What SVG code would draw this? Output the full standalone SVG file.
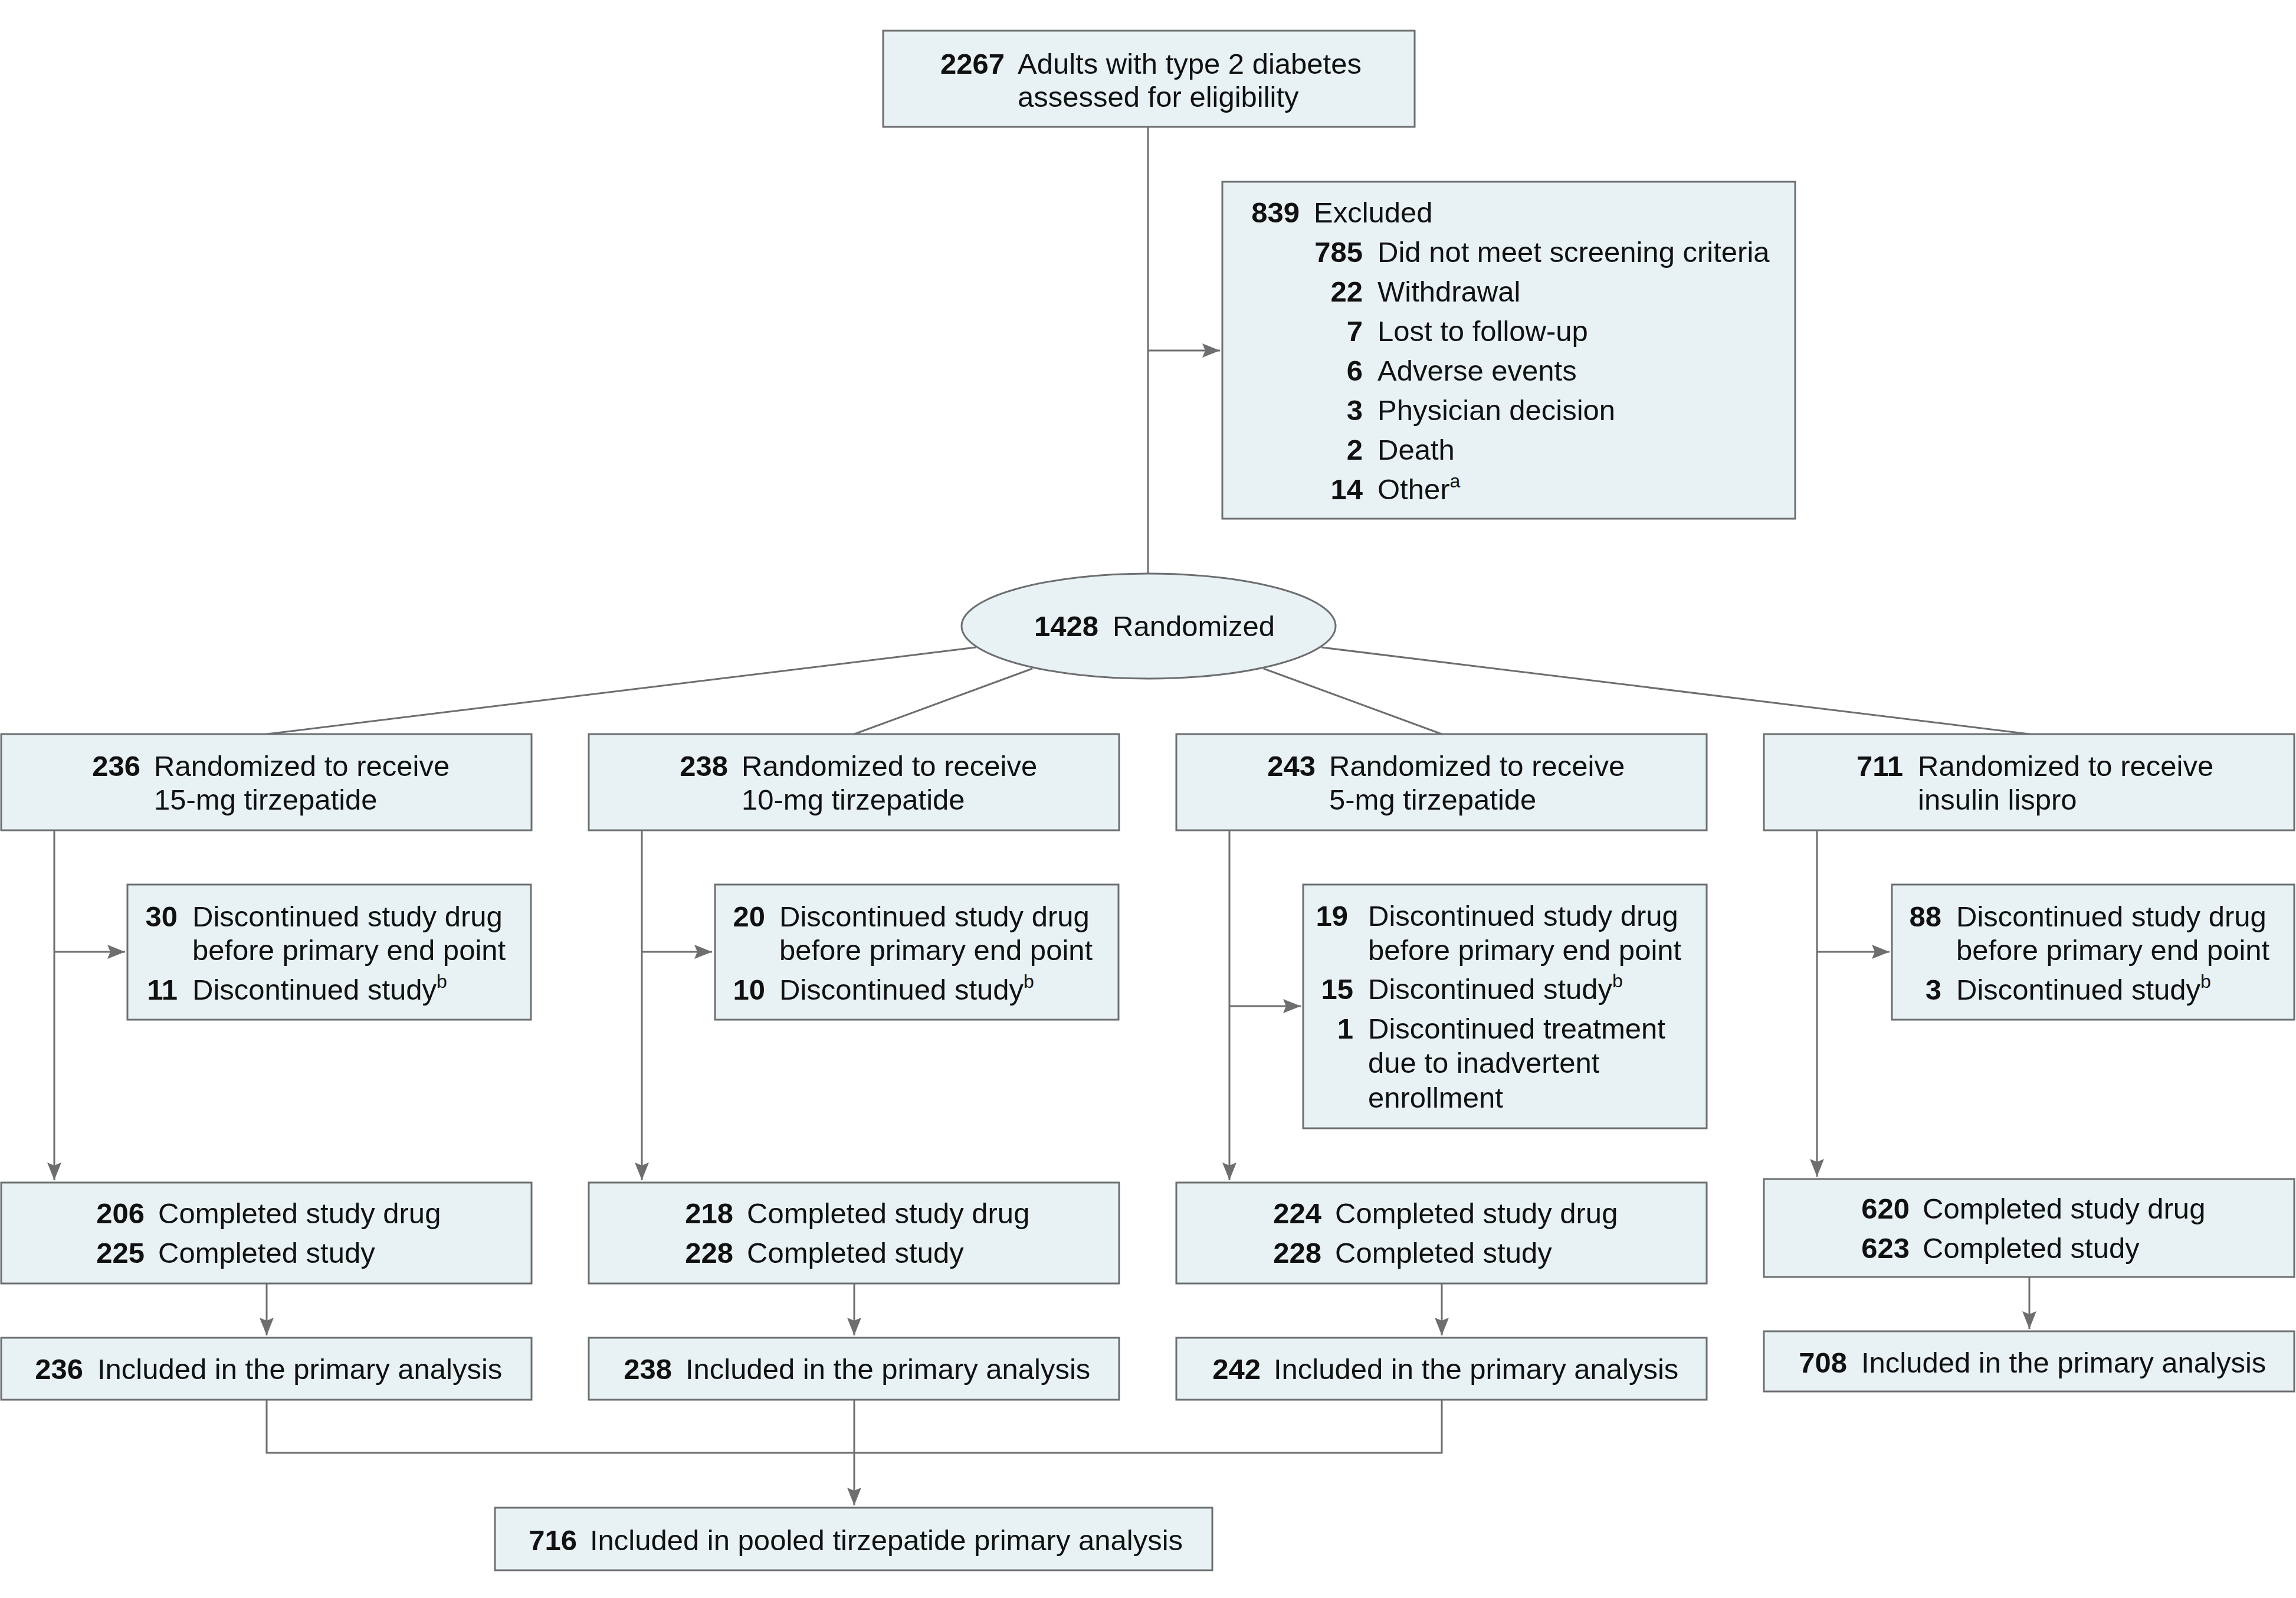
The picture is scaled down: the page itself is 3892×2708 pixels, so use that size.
<svg xmlns="http://www.w3.org/2000/svg" width="3892" height="2708" viewBox="0 0 3892 2708">
<style>
.box{fill:#e8f2f4;stroke:#6d6e70;stroke-width:3}
.ln{stroke:#6d6e70;stroke-width:3;fill:none}
text{font-family:"Liberation Sans",Arial,sans-serif;font-size:49px;fill:#111}
.n{font-weight:bold;text-anchor:end}
.sup{font-size:32px}
</style>
<defs>
<marker id="ah" markerUnits="userSpaceOnUse" markerWidth="32" markerHeight="26" refX="30" refY="12" orient="auto">
<path d="M0,0 L30,12 L0,24 L5,12 z" fill="#6d6e70"/>
</marker>
</defs>
<rect width="3892" height="2708" fill="#ffffff"/>
<g id="connectors">
<line class="ln" x1="1946" y1="215" x2="1946" y2="971"/>
<line class="ln" x1="1946" y1="594" x2="2068" y2="594" marker-end="url(#ah)"/>
<line class="ln" x1="1654" y1="1097" x2="452" y2="1244"/>
<line class="ln" x1="1750" y1="1133" x2="1448" y2="1244"/>
<line class="ln" x1="2142" y1="1133" x2="2444" y2="1244"/>
<line class="ln" x1="2240" y1="1097" x2="3440" y2="1244"/>
<line class="ln" x1="92" y1="1407" x2="92" y2="2000" marker-end="url(#ah)"/>
<line class="ln" x1="92" y1="1613" x2="212" y2="1613" marker-end="url(#ah)"/>
<line class="ln" x1="1088" y1="1407" x2="1088" y2="2000" marker-end="url(#ah)"/>
<line class="ln" x1="1088" y1="1613" x2="1207" y2="1613" marker-end="url(#ah)"/>
<line class="ln" x1="2084" y1="1407" x2="2084" y2="2000" marker-end="url(#ah)"/>
<line class="ln" x1="2084" y1="1705" x2="2205" y2="1705" marker-end="url(#ah)"/>
<line class="ln" x1="3080" y1="1407" x2="3080" y2="1994" marker-end="url(#ah)"/>
<line class="ln" x1="3080" y1="1613" x2="3203" y2="1613" marker-end="url(#ah)"/>
<line class="ln" x1="452" y1="2175" x2="452" y2="2263" marker-end="url(#ah)"/>
<line class="ln" x1="1448" y1="2175" x2="1448" y2="2263" marker-end="url(#ah)"/>
<line class="ln" x1="2444" y1="2175" x2="2444" y2="2263" marker-end="url(#ah)"/>
<line class="ln" x1="3440" y1="2164" x2="3440" y2="2252" marker-end="url(#ah)"/>
<polyline class="ln" points="452,2372 452,2462 2444,2462 2444,2372"/>
<line class="ln" x1="1448" y1="2372" x2="1448" y2="2551" marker-end="url(#ah)"/>
</g>
<g id="assessed">
<rect class="box" x="1497" y="52" width="901" height="163"/>
<text class="n" x="1703" y="125">2267</text>
<text x="1725" y="125">Adults with type 2 diabetes</text>
<text x="1725" y="181">assessed for eligibility</text>
</g>
<g id="excluded">
<rect class="box" x="2072" y="308" width="971" height="571"/>
<text class="n" x="2203" y="377">839</text><text x="2227" y="377">Excluded</text>
<text class="n" x="2310" y="444">785</text><text x="2335" y="444">Did not meet screening criteria</text>
<text class="n" x="2310" y="511">22</text><text x="2335" y="511">Withdrawal</text>
<text class="n" x="2310" y="578">7</text><text x="2335" y="578">Lost to follow-up</text>
<text class="n" x="2310" y="645">6</text><text x="2335" y="645">Adverse events</text>
<text class="n" x="2310" y="712">3</text><text x="2335" y="712">Physician decision</text>
<text class="n" x="2310" y="779">2</text><text x="2335" y="779">Death</text>
<text class="n" x="2310" y="846">14</text><text x="2335" y="846">Other<tspan class="sup" dy="-20">a</tspan></text>
</g>
<g id="randomized">
<ellipse class="box" cx="1947" cy="1061" rx="317" ry="89"/>
<text class="n" x="1862" y="1078">1428</text>
<text x="1886" y="1078">Randomized</text>
</g>
<g id="arm15">
<rect class="box" x="2" y="1244" width="899" height="163"/>
<text class="n" x="238" y="1315">236</text>
<text x="261" y="1315">Randomized to receive</text>
<text x="261" y="1372">15-mg tirzepatide</text>
</g>
<g id="arm10">
<rect class="box" x="998" y="1244" width="899" height="163"/>
<text class="n" x="1234" y="1315">238</text>
<text x="1257" y="1315">Randomized to receive</text>
<text x="1257" y="1372">10-mg tirzepatide</text>
</g>
<g id="arm5">
<rect class="box" x="1994" y="1244" width="899" height="163"/>
<text class="n" x="2230" y="1315">243</text>
<text x="2253" y="1315">Randomized to receive</text>
<text x="2253" y="1372">5-mg tirzepatide</text>
</g>
<g id="armLispro">
<rect class="box" x="2990" y="1244" width="899" height="163"/>
<text class="n" x="3226" y="1315">711</text>
<text x="3251" y="1315">Randomized to receive</text>
<text x="3251" y="1372">insulin lispro</text>
</g>
<g id="disc15">
<rect class="box" x="216" y="1499" width="684" height="229"/>
<text class="n" x="301" y="1570">30</text><text x="326" y="1570">Discontinued study drug</text>
<text x="326" y="1627">before primary end point</text>
<text class="n" x="301" y="1694">11</text><text x="326" y="1694">Discontinued study<tspan class="sup" dy="-20">b</tspan></text>
</g>
<g id="disc10">
<rect class="box" x="1212" y="1499" width="684" height="229"/>
<text class="n" x="1297" y="1570">20</text><text x="1321" y="1570">Discontinued study drug</text>
<text x="1321" y="1627">before primary end point</text>
<text class="n" x="1297" y="1694">10</text><text x="1321" y="1694">Discontinued study<tspan class="sup" dy="-20">b</tspan></text>
</g>
<g id="disc5">
<rect class="box" x="2209" y="1499" width="684" height="413"/>
<text class="n" x="2285" y="1569">19</text><text x="2319" y="1569">Discontinued study drug</text>
<text x="2319" y="1627">before primary end point</text>
<text class="n" x="2294" y="1693">15</text><text x="2319" y="1693">Discontinued study<tspan class="sup" dy="-20">b</tspan></text>
<text class="n" x="2294" y="1760">1</text><text x="2319" y="1760">Discontinued treatment</text>
<text x="2319" y="1818">due to inadvertent</text>
<text x="2319" y="1877">enrollment</text>
</g>
<g id="discLispro">
<rect class="box" x="3207" y="1499" width="682" height="229"/>
<text class="n" x="3291" y="1570">88</text><text x="3316" y="1570">Discontinued study drug</text>
<text x="3316" y="1627">before primary end point</text>
<text class="n" x="3291" y="1694">3</text><text x="3316" y="1694">Discontinued study<tspan class="sup" dy="-20">b</tspan></text>
</g>
<g id="comp15">
<rect class="box" x="2" y="2004" width="899" height="171"/>
<text class="n" x="245" y="2073">206</text><text x="268" y="2073">Completed study drug</text>
<text class="n" x="245" y="2140">225</text><text x="268" y="2140">Completed study</text>
</g>
<g id="comp10">
<rect class="box" x="998" y="2004" width="899" height="171"/>
<text class="n" x="1243" y="2073">218</text><text x="1266" y="2073">Completed study drug</text>
<text class="n" x="1243" y="2140">228</text><text x="1266" y="2140">Completed study</text>
</g>
<g id="comp5">
<rect class="box" x="1994" y="2004" width="899" height="171"/>
<text class="n" x="2240" y="2073">224</text><text x="2263" y="2073">Completed study drug</text>
<text class="n" x="2240" y="2140">228</text><text x="2263" y="2140">Completed study</text>
</g>
<g id="compLispro">
<rect class="box" x="2990" y="1998" width="899" height="166"/>
<text class="n" x="3237" y="2065">620</text><text x="3259" y="2065">Completed study drug</text>
<text class="n" x="3237" y="2132">623</text><text x="3259" y="2132">Completed study</text>
</g>
<g id="incl15">
<rect class="box" x="2" y="2267" width="899" height="105"/>
<text class="n" x="141" y="2337">236</text><text x="165" y="2337">Included in the primary analysis</text>
</g>
<g id="incl10">
<rect class="box" x="998" y="2267" width="899" height="105"/>
<text class="n" x="1139" y="2337">238</text><text x="1162" y="2337">Included in the primary analysis</text>
</g>
<g id="incl5">
<rect class="box" x="1994" y="2267" width="899" height="105"/>
<text class="n" x="2137" y="2337">242</text><text x="2159" y="2337">Included in the primary analysis</text>
</g>
<g id="inclLispro">
<rect class="box" x="2990" y="2256" width="899" height="102"/>
<text class="n" x="3131" y="2326">708</text><text x="3155" y="2326">Included in the primary analysis</text>
</g>
<g id="pooled">
<rect class="box" x="839" y="2555" width="1216" height="106"/>
<text class="n" x="978" y="2627">716</text><text x="1000" y="2627">Included in pooled tirzepatide primary analysis</text>
</g>
</svg>
